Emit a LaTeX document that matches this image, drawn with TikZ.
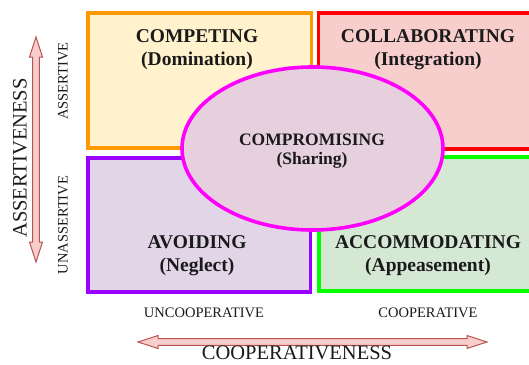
\documentclass[tikz,border=0pt]{standalone}
\usepackage{fontspec}
\setmainfont{Liberation Serif}

\definecolor{compBorder}{HTML}{FF9900}
\definecolor{compFill}{HTML}{FFF2CC}
\definecolor{collBorder}{HTML}{FF0000}
\definecolor{collFill}{HTML}{F8CECC}
\definecolor{avoidBorder}{HTML}{9900FF}
\definecolor{avoidFill}{HTML}{E1D5E7}
\definecolor{accBorder}{HTML}{00FF00}
\definecolor{accFill}{HTML}{D5E8D4}
\definecolor{shareBorder}{HTML}{FF00FF}
\definecolor{shareFill}{HTML}{E6D0DE}
\definecolor{axisBorder}{HTML}{B85450}
\definecolor{axisFill}{HTML}{F8CECC}
\definecolor{ink}{HTML}{1A1A1A}

\tikzset{
  quadrant/.style={line width=3.6pt, inner sep=0pt, anchor=north west},
  title/.style={font=\bfseries\fontsize{19.5}{22}\selectfont, text=ink, inner sep=0pt},
  midtitle/.style={title, font=\bfseries\fontsize{17.5}{20}\selectfont},
  axisword/.style={font=\fontsize{14.5}{16}\selectfont, text=ink, inner sep=0pt},
  axisname/.style={font=\fontsize{20.5}{22}\selectfont, text=ink, inner sep=0pt},
  axisarrow/.style={draw=axisBorder, fill=axisFill, line width=1pt, line join=miter},
}

\begin{document}
\begin{tikzpicture}[x=1pt, y=-1pt]
\useasboundingbox (0,0) rectangle (529,364);

\begin{scope}
  \clip (0,0) rectangle (529,364);
  % the four quadrants
  \node[quadrant, draw=compBorder, fill=compFill, minimum width=223.7pt, minimum height=135pt]
    (competing) at (86,11) {};
  \node[quadrant, draw=collBorder, fill=collFill, minimum width=220pt, minimum height=136pt]
    (collaborating) at (316.5,11) {};
  \node[quadrant, draw=avoidBorder, fill=avoidFill, minimum width=222.7pt, minimum height=134pt]
    (avoiding) at (86,156) {};
  \node[quadrant, draw=accBorder, fill=accFill, minimum width=220pt, minimum height=134pt]
    (accommodating) at (317,155) {};
  % the compromise area over the middle
  \draw[line width=3.6pt, draw=shareBorder, fill=shareFill]
    (312.5,148.5) ellipse [x radius=130.5, y radius=81.5];
\end{scope}

% quadrant labels
\node[title] (t1) at (197,36) {COMPETING};
\node[title] (s1) at (197,61) {(Domination)};
\node[title] (t2) at (428,36) {COLLABORATING};
\node[title] (s2) at (428,61) {(Integration)};
\node[midtitle] (t5) at (312,140) {COMPROMISING};
\node[midtitle] (s5) at (312,160) {(Sharing)};
\node[title] (t3) at (197,242) {AVOIDING};
\node[title] (s3) at (197,267) {(Neglect)};
\node[title] (t4) at (428,242) {ACCOMMODATING};
\node[title] (s4) at (428,267) {(Appeasement)};

% vertical axis: a two-headed block arrow
\coordinate (vtop) at (36,37);
\coordinate (vbot) at (36,262);
\draw[axisarrow] (vtop) -- ++(6.5,20) -- ++(-3.2,0) -- ++(0,185) -- ++(3.2,0)
  -- (vbot) -- ++(-6.5,-20) -- ++(3.2,0) -- ++(0,-185) -- ++(-3.2,0) -- cycle;
\node[axisname, rotate=90] (vname) at (20,158) {ASSERTIVENESS};
\node[axisword, rotate=90] (vhi) at (63,81) {ASSERTIVE};
\node[axisword, rotate=90] (vlo) at (63,225) {UNASSERTIVE};

% horizontal axis: a two-headed block arrow
\coordinate (hleft) at (138,342);
\coordinate (hright) at (487,342);
\draw[axisarrow] (hleft) -- ++(20,-6.5) -- ++(0,3.2) -- ++(309,0) -- ++(0,-3.2)
  -- (hright) -- ++(-20,6.5) -- ++(0,-3.2) -- ++(-309,0) -- ++(0,3.2) -- cycle;
\node[axisname] (hname) at (297,353) {COOPERATIVENESS};
\node[axisword] (hlo) at (204,313) {UNCOOPERATIVE};
\node[axisword] (hhi) at (428,313) {COOPERATIVE};
\end{tikzpicture}
\end{document}
